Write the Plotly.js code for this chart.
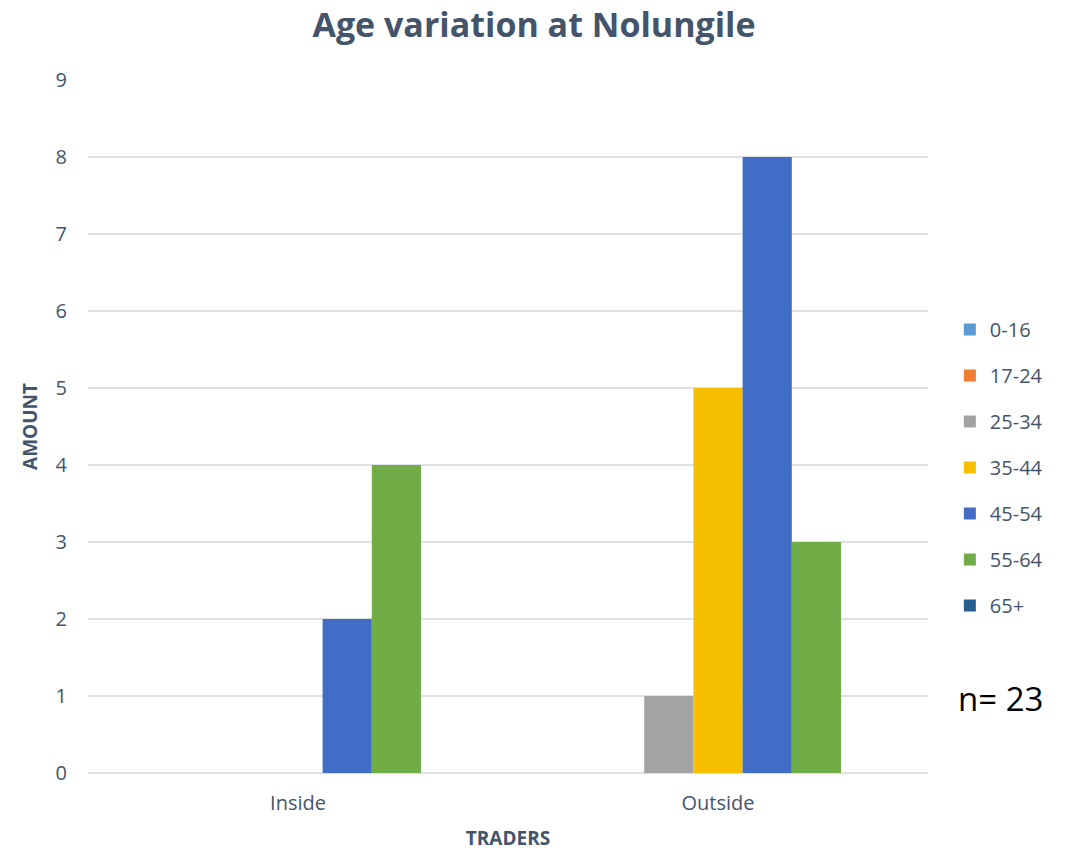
<!DOCTYPE html>
<html>
<head>
<meta charset="utf-8">
<script src="https://cdn.plot.ly/plotly-3.0.1.min.js"></script>
<style>html,body{margin:0;padding:0;background:#fff;}#chart{width:1068px;height:852px;}</style>
</head>
<body>
<div id="chart"></div>
<script>
const categories = ["Inside", "Outside"];
const seriesNames = ["0-16", "17-24", "25-34", "35-44", "45-54", "55-64", "65+"];
const v_0_16 = [0, 0];
const v_17_24 = [0, 0];
const v_25_34 = [0, 1];
const v_35_44 = [0, 5];
const v_45_54 = [2, 8];
const v_55_64 = [4, 3];
const v_65p = [0, 0];
const seriesValues = [v_0_16, v_17_24, v_25_34, v_35_44, v_45_54, v_55_64, v_65p];
const barColors = ["#5B9BD5", "#ED7D31", "#A3A3A3", "#F6C000", "#416DC6", "#70AD47", "#255E91"];

const textColor = "#44546A";
const font = "Open Sans, Liberation Sans, sans-serif";

const traces = seriesNames.map((n, i) => ({
  type: "bar",
  name: n,
  x: categories,
  y: seriesValues[i],
  legendgroup: "g" + i,
  marker: {color: barColors[i], line: {width: 0}},
  hoverinfo: "name+y"
}));

const layout = {
  width: 1068, height: 852,
  margin: {l: 88, r: 140, t: 80, b: 79},
  paper_bgcolor: "#fff", plot_bgcolor: "#fff",
  font: {family: font, color: textColor, size: 20},
  title: {text: "<b>Age variation at Nolungile</b>", font: {size: 34, color: textColor, family: font}, x: 0.5, xanchor: "center", y: 0.971, yanchor: "middle"},
  barmode: "group",
  bargap: 0.18,
  bargroupgap: 0,
  xaxis: {
    title: {text: "<b>TRADERS</b>", font: {size: 19, color: textColor}, standoff: 16},
    tickfont: {size: 20, color: textColor},
    ticklabelstandoff: 16,
    showgrid: false, showline: false, ticks: ""
  },
  yaxis: {
    title: {text: "<b>AMOUNT</b>", font: {size: 19, color: textColor}, standoff: 12},
    range: [0, 9], dtick: 1,
    tickfont: {size: 20, color: textColor},
    gridcolor: "#DDE1E6", gridwidth: 1.5,
    zeroline: true, zerolinecolor: "#DDE1E6", zerolinewidth: 1.5,
    showline: false, ticks: "", ticklen: 0, ticklabelstandoff: 20
  },
  legend: {
    x: 1.026, xanchor: "left", y: 0.668, yanchor: "top",
    font: {size: 20, color: textColor},
    tracegroupgap: 17,
    itemwidth: 30,
    bgcolor: "rgba(0,0,0,0)"
  },
  annotations: [{
    text: "n= 23", xref: "paper", yref: "paper", x: 1.033, y: 0.108, xanchor: "left", yanchor: "middle",
    showarrow: false, font: {size: 33, color: "#000", family: font}
  }]
};

Plotly.newPlot("chart", traces, layout, {displayModeBar: false, staticPlot: true});
</script>
</body>
</html>
